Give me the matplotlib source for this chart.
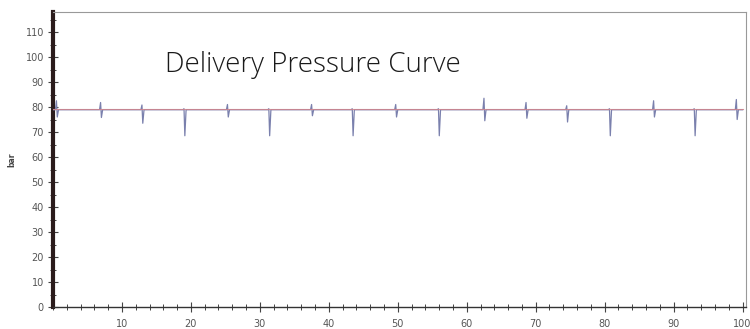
import matplotlib
matplotlib.use("Agg")
import matplotlib.pyplot as plt
from matplotlib.ticker import MultipleLocator

# ---- data ----
x_range = [0, 100]
setpoint = 79.4          # red reference line (bar)
baseline = 78.9          # blue trace resting level (bar)
event_x = [0.5, 6.9, 12.9, 19.0, 25.3, 31.3, 37.5, 43.4, 49.7, 55.9,
           62.5, 68.6, 74.5, 80.7, 87.1, 93.0, 99.1]
event_high = [82.5, 81.8, 80.8, 79.3, 81.0, 79.3, 81.0, 79.3, 81.0, 79.3,
              83.5, 81.8, 80.5, 79.3, 82.5, 79.3, 83.0]
event_low = [76.0, 75.8, 73.5, 68.5, 76.0, 68.5, 76.5, 68.5, 76.0, 68.5,
             74.5, 75.5, 74.0, 68.5, 76.0, 68.5, 75.0]
title = "Delivery Pressure Curve"
y_label = "bar"

# ---- build the blue trace path from the events ----
tx, ty = [0.0], [baseline]
for ex, hi, lo in zip(event_x, event_high, event_low):
    tx += [ex - 0.15, ex, ex + 0.12, ex + 0.3]
    ty += [baseline, hi, lo, baseline]
tx.append(x_range[1])
ty.append(baseline)

fig = plt.figure(figsize=(7.5, 3.29), dpi=100)
ax = fig.add_axes([53 / 750, 22 / 329, 693 / 750, 295 / 329])

ax.plot(tx, ty, color="#7a80ad", lw=0.9, zorder=3)
ax.plot(x_range, [setpoint, setpoint], color="#d0848c", lw=0.8, zorder=4,
        alpha=0.85)

ax.set_xlim(0, 100.5)
ax.set_ylim(0, 118)
ax.xaxis.set_minor_locator(MultipleLocator(2))
ax.yaxis.set_minor_locator(MultipleLocator(5))
ax.set_xticks(range(10, 101, 10))
ax.set_yticks(range(0, 111, 10))

ax.tick_params(axis="both", which="major", direction="inout", length=7,
               width=0.8, color="#444444", labelsize=7, labelcolor="#555555")
ax.tick_params(axis="both", which="minor", direction="inout", length=4,
               width=0.7, color="#444444")
ax.tick_params(axis="x", pad=5)
ax.tick_params(axis="y", pad=3)

ax.spines["left"].set_linewidth(3)
ax.spines["left"].set_color("#2b1c1c")
ax.spines["bottom"].set_linewidth(1)
ax.spines["bottom"].set_color("#333333")
for s in ("top", "right"):
    ax.spines[s].set_linewidth(0.8)
    ax.spines[s].set_color("#999999")

ax.text(0.161, 0.82, title, transform=ax.transAxes, fontsize=20,
        family="Open Sans", fontweight="light", color="#1a1a1a",
        va="center", ha="left")

fig.text(12 / 750, 1 - 160 / 329, y_label, rotation=90, fontsize=5.5,
         fontweight="bold", color="#444444", va="center", ha="center")

fig.savefig("out.png", dpi=100)
